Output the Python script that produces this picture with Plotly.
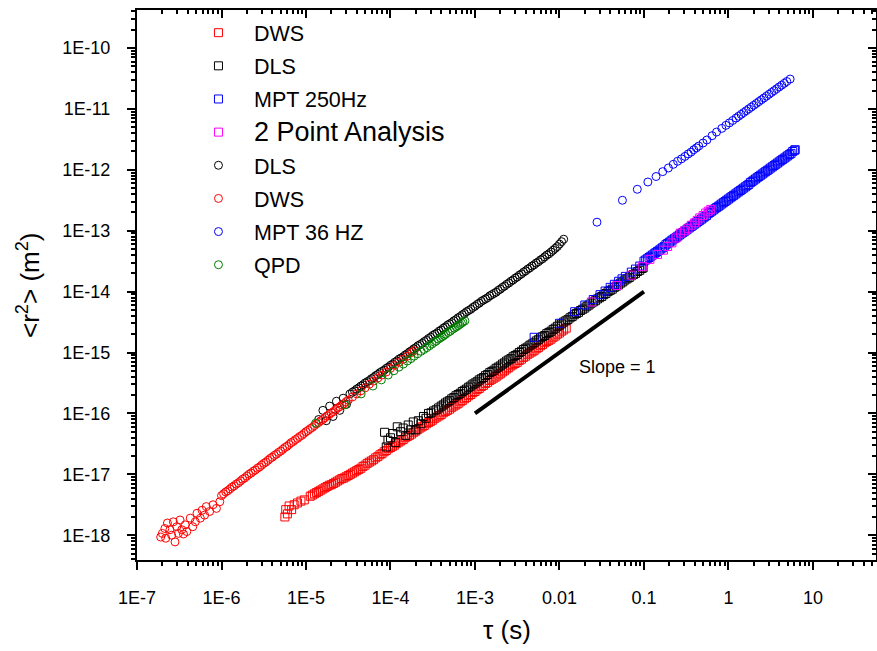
import numpy as np
import plotly.graph_objects as go

# ---------------- data (log10 of tau [s] and of <r^2> [m^2]) ----------------
dws_sq_log_tau = [-5.25, -5.24, -5.22, -5.20, -5.17, -5.14, -5.10, -5.06, -5.02,
                  -4.950, -4.925, -4.900, -4.875, -4.850, -4.825, -4.800, -4.775, -4.750, -4.725,
                  -4.700, -4.675, -4.650, -4.625, -4.600, -4.575, -4.550, -4.525, -4.500, -4.475,
                  -4.450, -4.425, -4.400, -4.375, -4.350, -4.325, -4.300, -4.275, -4.250, -4.225,
                  -4.200, -4.175, -4.150, -4.125, -4.100, -4.075, -4.050, -4.025, -4.000, -3.975,
                  -3.950, -3.925, -3.900, -3.875, -3.850, -3.825, -3.800, -3.775, -3.750, -3.725,
                  -3.700, -3.675, -3.650, -3.625, -3.600, -3.575, -3.550, -3.525, -3.500, -3.475,
                  -3.450, -3.425, -3.400, -3.375, -3.350, -3.325, -3.300, -3.275, -3.250, -3.225,
                  -3.200, -3.175, -3.150, -3.125, -3.100, -3.075, -3.050, -3.025, -3.000, -2.975,
                  -2.950, -2.925, -2.900, -2.875, -2.850, -2.825, -2.800, -2.775, -2.750, -2.725,
                  -2.700, -2.675, -2.650, -2.625, -2.600, -2.575, -2.550, -2.525, -2.500, -2.475,
                  -2.450, -2.425, -2.400, -2.375, -2.350, -2.325, -2.300, -2.275, -2.250, -2.225,
                  -2.200, -2.175, -2.150, -2.125, -2.100, -2.075, -2.050, -2.025, -2.000, -1.975,
                  -1.950, -1.920]
dws_sq_log_msd = [-17.70, -17.58, -17.65, -17.52, -17.58, -17.50, -17.47, -17.44, -17.42,
                  -17.36, -17.34, -17.32, -17.30, -17.28, -17.26, -17.24, -17.22, -17.20, -17.18,
                  -17.17, -17.15, -17.13, -17.11, -17.09, -17.07, -17.06, -17.04, -17.02, -17.00,
                  -16.98, -16.96, -16.94, -16.92, -16.90, -16.87, -16.85, -16.82, -16.80, -16.78,
                  -16.76, -16.73, -16.71, -16.68, -16.66, -16.63, -16.61, -16.58, -16.56, -16.54,
                  -16.52, -16.49, -16.47, -16.45, -16.43, -16.40, -16.38, -16.36, -16.34, -16.31,
                  -16.29, -16.26, -16.24, -16.22, -16.20, -16.17, -16.15, -16.13, -16.11, -16.08,
                  -16.06, -16.04, -16.02, -15.99, -15.97, -15.95, -15.93, -15.90, -15.88, -15.86,
                  -15.84, -15.81, -15.79, -15.76, -15.74, -15.71, -15.69, -15.66, -15.64, -15.61,
                  -15.59, -15.56, -15.54, -15.51, -15.49, -15.46, -15.44, -15.42, -15.40, -15.37,
                  -15.35, -15.32, -15.30, -15.27, -15.25, -15.22, -15.20, -15.18, -15.16, -15.13,
                  -15.11, -15.08, -15.06, -15.03, -15.01, -14.99, -14.97, -14.94, -14.92, -14.89,
                  -14.87, -14.84, -14.82, -14.80, -14.78, -14.75, -14.73, -14.70, -14.68, -14.65,
                  -14.63, -14.60]

dls_sq_log_tau = [-4.07, -4.05, -4.03, -4.00, -3.97, -3.94, -3.92, -3.88, -3.85, -3.82,
                  -3.79, -3.76, -3.73, -3.70, -3.67, -3.64, -3.61, -3.58, -3.55, -3.52,
                  -3.49, -3.46, -3.43,
                  -3.400, -3.375, -3.350, -3.325, -3.300, -3.275, -3.250, -3.225, -3.200, -3.175,
                  -3.150, -3.125, -3.100, -3.075, -3.050, -3.025, -3.000, -2.975, -2.950, -2.925,
                  -2.900, -2.875, -2.850, -2.825, -2.800, -2.775, -2.750, -2.725, -2.700, -2.675,
                  -2.650, -2.625, -2.600, -2.575, -2.550, -2.525, -2.500, -2.475, -2.450, -2.425,
                  -2.400, -2.375, -2.350, -2.325, -2.300, -2.275, -2.250, -2.225, -2.200, -2.175,
                  -2.150, -2.125, -2.100, -2.075, -2.050, -2.025, -2.000, -1.975, -1.950, -1.925,
                  -1.900, -1.875, -1.850, -1.825, -1.800, -1.775, -1.750, -1.725, -1.700, -1.675,
                  -1.650, -1.625, -1.600, -1.575, -1.550, -1.525, -1.500, -1.475, -1.450, -1.425,
                  -1.400, -1.375, -1.350, -1.325, -1.300, -1.275, -1.250, -1.225, -1.200, -1.175,
                  -1.150, -1.125, -1.100, -1.075, -1.050, -1.025, -1.010]
dls_sq_log_msd = [-16.31, -16.55, -16.44, -16.40, -16.33, -16.48, -16.22, -16.30, -16.24, -16.36,
                  -16.19, -16.27, -16.14, -16.27, -16.12, -16.17, -16.05, -16.08, -16.00, -15.99,
                  -15.96, -15.94, -15.91,
                  -15.88, -15.86, -15.83, -15.81, -15.79, -15.76, -15.74, -15.71, -15.69, -15.67,
                  -15.64, -15.62, -15.60, -15.57, -15.55, -15.52, -15.50, -15.48, -15.45, -15.43,
                  -15.41, -15.38, -15.36, -15.33, -15.31, -15.29, -15.26, -15.24, -15.22, -15.19,
                  -15.17, -15.14, -15.12, -15.10, -15.07, -15.05, -15.03, -15.00, -14.98, -14.95,
                  -14.93, -14.91, -14.88, -14.86, -14.84, -14.81, -14.79, -14.76, -14.74, -14.72,
                  -14.69, -14.67, -14.65, -14.62, -14.60, -14.57, -14.55, -14.53, -14.50, -14.48,
                  -14.46, -14.43, -14.41, -14.38, -14.36, -14.34, -14.31, -14.29, -14.27, -14.24,
                  -14.22, -14.19, -14.17, -14.15, -14.12, -14.10, -14.08, -14.05, -14.03, -14.00,
                  -13.98, -13.96, -13.93, -13.91, -13.89, -13.86, -13.84, -13.81, -13.79, -13.77,
                  -13.74, -13.72, -13.70, -13.67, -13.65, -13.62, -13.61]

mpt250_log_tau = [-2.30, -2.00, -1.82, -1.70, -1.60, -1.52, -1.46, -1.40, -1.35, -1.30,
                  -1.26, -1.22, -1.15, -1.10, -1.05,
                  -1.00, -0.98, -0.96, -0.94, -0.92, -0.90, -0.88, -0.86, -0.84, -0.82,
                  -0.80, -0.78, -0.76, -0.74, -0.72, -0.70, -0.68, -0.66, -0.64, -0.62,
                  -0.60, -0.58, -0.56, -0.54, -0.52, -0.50, -0.48, -0.46, -0.44, -0.42,
                  -0.40, -0.38, -0.36, -0.34, -0.32, -0.30, -0.28, -0.26, -0.24, -0.22,
                  -0.20, -0.18, -0.16, -0.14, -0.12, -0.10, -0.08, -0.06, -0.04, -0.02,
                  0.00, 0.02, 0.04, 0.06, 0.08, 0.10, 0.12, 0.14, 0.16, 0.18,
                  0.20, 0.22, 0.24, 0.26, 0.28, 0.30, 0.32, 0.34, 0.36, 0.38,
                  0.40, 0.42, 0.44, 0.46, 0.48, 0.50, 0.52, 0.54, 0.56, 0.58,
                  0.60, 0.62, 0.64, 0.66, 0.68, 0.70, 0.72, 0.74, 0.76, 0.78, 0.79]
mpt250_log_msd = [-14.75, -14.52, -14.33, -14.22, -14.13, -14.05, -13.99, -13.93, -13.88, -13.83,
                  -13.79, -13.75, -13.68, -13.63, -13.58,
                  -13.50, -13.48, -13.46, -13.44, -13.42, -13.40, -13.38, -13.36, -13.34, -13.32,
                  -13.30, -13.28, -13.26, -13.23, -13.21, -13.19, -13.17, -13.15, -13.13, -13.11,
                  -13.09, -13.07, -13.05, -13.03, -13.01, -12.99, -12.97, -12.95, -12.93, -12.91,
                  -12.89, -12.87, -12.85, -12.83, -12.81, -12.79, -12.77, -12.75, -12.72, -12.70,
                  -12.68, -12.66, -12.64, -12.62, -12.60, -12.58, -12.56, -12.54, -12.52, -12.50,
                  -12.48, -12.46, -12.44, -12.42, -12.40, -12.38, -12.36, -12.34, -12.32, -12.30,
                  -12.28, -12.26, -12.24, -12.21, -12.19, -12.17, -12.15, -12.13, -12.11, -12.09,
                  -12.07, -12.05, -12.03, -12.01, -11.99, -11.97, -11.95, -11.93, -11.91, -11.89,
                  -11.87, -11.85, -11.83, -11.81, -11.79, -11.77, -11.75, -11.73, -11.70, -11.68, -11.67]

two_pt_log_tau = [-1.62, -1.32, -1.15, -1.02, -0.93, -0.84, -0.77, -0.72, -0.67, -0.62,
                  -0.57, -0.52, -0.48, -0.44, -0.40, -0.37, -0.34, -0.30, -0.27, -0.24, -0.21]
two_pt_log_msd = [-14.17, -13.90, -13.73, -13.59, -13.47, -13.39, -13.32, -13.26, -13.20, -13.12,
                  -13.04, -13.00, -12.96, -12.91, -12.87, -12.83, -12.79, -12.75, -12.71, -12.68, -12.65]

dls_ci_log_tau = [-4.85, -4.80, -4.76, -4.72, -4.68, -4.64, -4.60, -4.56, -4.52, -4.48,
                  -4.450, -4.425, -4.400, -4.375, -4.350, -4.325, -4.300, -4.275, -4.250, -4.225,
                  -4.200, -4.175, -4.150, -4.125, -4.100, -4.075, -4.050, -4.025, -4.000, -3.975,
                  -3.950, -3.925, -3.900, -3.875, -3.850, -3.825, -3.800, -3.775, -3.750, -3.725,
                  -3.700, -3.675, -3.650, -3.625, -3.600, -3.575, -3.550, -3.525, -3.500, -3.475,
                  -3.450, -3.425, -3.400, -3.375, -3.350, -3.325, -3.300, -3.275, -3.250, -3.225,
                  -3.200, -3.175, -3.150, -3.125, -3.100, -3.075, -3.050, -3.025, -3.000, -2.975,
                  -2.950, -2.925, -2.900, -2.875, -2.850, -2.825, -2.800, -2.775, -2.750, -2.725,
                  -2.700, -2.675, -2.650, -2.625, -2.600, -2.575, -2.550, -2.525, -2.500, -2.475,
                  -2.450, -2.425, -2.400, -2.375, -2.350, -2.325, -2.300, -2.275, -2.250, -2.225,
                  -2.200, -2.175, -2.150, -2.125, -2.100, -2.075, -2.050, -2.025, -2.000, -1.975,
                  -1.950]
dls_ci_log_msd = [-16.10, -15.95, -16.12, -15.88, -16.05, -15.80, -15.95, -15.75, -15.85, -15.68,
                  -15.65, -15.63, -15.60, -15.58, -15.55, -15.53, -15.50, -15.48, -15.46, -15.43,
                  -15.41, -15.38, -15.36, -15.33, -15.31, -15.29, -15.26, -15.24, -15.21, -15.19,
                  -15.16, -15.14, -15.11, -15.09, -15.07, -15.04, -15.02, -14.99, -14.97, -14.94,
                  -14.92, -14.89, -14.87, -14.85, -14.82, -14.80, -14.77, -14.75, -14.72, -14.70,
                  -14.68, -14.65, -14.63, -14.60, -14.58, -14.55, -14.53, -14.51, -14.48, -14.46,
                  -14.43, -14.41, -14.38, -14.36, -14.33, -14.31, -14.29, -14.26, -14.24, -14.21,
                  -14.19, -14.16, -14.14, -14.12, -14.10, -14.07, -14.05, -14.03, -14.01, -13.98,
                  -13.96, -13.93, -13.91, -13.88, -13.86, -13.83, -13.81, -13.78, -13.76, -13.73,
                  -13.71, -13.68, -13.66, -13.63, -13.61, -13.58, -13.56, -13.53, -13.51, -13.48,
                  -13.46, -13.43, -13.40, -13.38, -13.35, -13.32, -13.29, -13.26, -13.22, -13.18,
                  -13.14]

dws_ci_log_tau = [-6.72, -6.70, -6.67, -6.66, -6.64, -6.61, -6.59, -6.57, -6.55, -6.53,
                  -6.51, -6.49, -6.47, -6.45, -6.43, -6.41, -6.37, -6.34, -6.31, -6.29,
                  -6.25, -6.23, -6.20, -6.18, -6.14, -6.10, -6.06, -6.02,
                  -6.000, -5.975, -5.950, -5.925, -5.900, -5.875, -5.850, -5.825, -5.800, -5.775,
                  -5.750, -5.725, -5.700, -5.675, -5.650, -5.625, -5.600, -5.575, -5.550, -5.525,
                  -5.500, -5.475, -5.450, -5.425, -5.400, -5.375, -5.350, -5.325, -5.300, -5.275,
                  -5.250, -5.225, -5.200, -5.175, -5.150, -5.125, -5.100, -5.075, -5.050, -5.025,
                  -5.000, -4.975, -4.950, -4.925, -4.900, -4.875, -4.850, -4.825, -4.800, -4.775,
                  -4.750, -4.725, -4.700, -4.675, -4.650, -4.625, -4.600, -4.575, -4.550, -4.525,
                  -4.500, -4.450, -4.400, -4.350, -4.300, -4.250, -4.200, -4.150, -4.100, -4.050,
                  -4.000, -3.950, -3.900, -3.850, -3.800, -3.750, -3.720]
dws_ci_log_msd = [-18.03, -17.97, -17.89, -18.05, -17.80, -17.91, -18.00, -17.78, -18.11, -17.86,
                  -17.97, -17.75, -17.91, -17.98, -17.83, -17.94, -17.72, -17.86, -17.78, -17.64,
                  -17.72, -17.59, -17.67, -17.53, -17.61, -17.50, -17.56, -17.45,
                  -17.35, -17.32, -17.29, -17.27, -17.24, -17.21, -17.19, -17.16, -17.14, -17.11,
                  -17.08, -17.06, -17.03, -17.00, -16.98, -16.95, -16.93, -16.90, -16.88, -16.85,
                  -16.82, -16.80, -16.77, -16.74, -16.72, -16.69, -16.67, -16.64, -16.62, -16.59,
                  -16.56, -16.54, -16.51, -16.48, -16.46, -16.43, -16.41, -16.38, -16.36, -16.33,
                  -16.30, -16.28, -16.25, -16.23, -16.20, -16.17, -16.15, -16.12, -16.10, -16.07,
                  -16.04, -16.02, -15.99, -15.97, -15.94, -15.91, -15.89, -15.86, -15.84, -15.81,
                  -15.78, -15.73, -15.68, -15.63, -15.58, -15.52, -15.47, -15.42, -15.37, -15.32,
                  -15.26, -15.21, -15.16, -15.11, -15.06, -15.00, -14.97]

mpt36_log_tau = [-1.556, -1.255, -1.079, -0.954, -0.857, -0.778, -0.711, -0.653, -0.602, -0.556,
                 -0.515, -0.477, -0.443, -0.411, -0.380, -0.352, -0.301, -0.255, -0.194, -0.141,
                 -0.079, -0.03, 0.01, 0.05, 0.09,
                 0.12, 0.15, 0.18, 0.21, 0.24, 0.27, 0.30, 0.33, 0.36, 0.39,
                 0.42, 0.45, 0.48, 0.51, 0.54, 0.57, 0.60, 0.63, 0.66, 0.69, 0.73]
mpt36_log_msd = [-12.86, -12.50, -12.32, -12.20, -12.11, -12.03, -11.97, -11.91, -11.86, -11.82,
                 -11.78, -11.74, -11.71, -11.67, -11.64, -11.61, -11.56, -11.51, -11.44, -11.38,
                 -11.32, -11.27, -11.23, -11.19, -11.15,
                 -11.12, -11.09, -11.06, -11.03, -11.00, -10.97, -10.94, -10.91, -10.88, -10.85,
                 -10.82, -10.79, -10.76, -10.73, -10.70, -10.67, -10.64, -10.61, -10.58, -10.55, -10.51]

qpd_log_tau = [-4.886, -4.538, -4.347, -4.208, -4.108, -4.027, -3.959, -3.900, -3.848, -3.801,
               -3.757, -3.721, -3.678, -3.638, -3.602, -3.569, -3.538, -3.509, -3.481, -3.456,
               -3.432, -3.409, -3.387, -3.367, -3.347, -3.319, -3.292, -3.268, -3.244, -3.222,
               -3.201, -3.180, -3.161, -3.143, -3.119]
qpd_log_msd = [-16.16, -15.86, -15.68, -15.55, -15.45, -15.37, -15.30, -15.24, -15.19, -15.14,
               -15.10, -15.06, -15.02, -14.98, -14.95, -14.92, -14.89, -14.86, -14.83, -14.81,
               -14.78, -14.76, -14.74, -14.72, -14.70, -14.67, -14.65, -14.62, -14.60, -14.58,
               -14.56, -14.54, -14.52, -14.50, -14.48]

slope_tau = [1e-3, 1e-1]
slope_msd = [1e-16, 1e-14]

x_tick_vals = [1e-7, 1e-6, 1e-5, 1e-4, 1e-3, 1e-2, 1e-1, 1, 10]
x_tick_text = ["1E-7", "1E-6", "1E-5", "1E-4", "1E-3", "0.01", "0.1", "1", "10"]
y_tick_vals = [1e-18, 1e-17, 1e-16, 1e-15, 1e-14, 1e-13, 1e-12, 1e-11, 1e-10]
y_tick_text = ["1E-18", "1E-17", "1E-16", "1E-15", "1E-14", "1E-13", "1E-12", "1E-11", "1E-10"]

series = [
    ("DWS", dws_sq_log_tau, dws_sq_log_msd, "square-open", "#ff0000"),
    ("DLS", dls_sq_log_tau, dls_sq_log_msd, "square-open", "#000000"),
    ("MPT 250Hz", mpt250_log_tau, mpt250_log_msd, "square-open", "#0000ff"),
    ("<span style='font-size:27px'>2 Point Analysis</span>", two_pt_log_tau, two_pt_log_msd, "square-open", "#ff00ff"),
    ("DLS", dls_ci_log_tau, dls_ci_log_msd, "circle-open", "#000000"),
    ("DWS", dws_ci_log_tau, dws_ci_log_msd, "circle-open", "#ff0000"),
    ("MPT 36 HZ", mpt36_log_tau, mpt36_log_msd, "circle-open", "#0000ff"),
    ("QPD", qpd_log_tau, qpd_log_msd, "circle-open", "#008000"),
]

FONT = "Liberation Sans, Arial, sans-serif"
XR = [-7, 1.746]
YR = [-18.407, -9.376]

fig = go.Figure()
for i, (name, lt, lm, sym, col) in enumerate(series):
    fig.add_trace(go.Scatter(
        x=np.power(10.0, lt), y=np.power(10.0, lm), mode="markers", name=name,
        legendgroup=f"g{i}",
        marker=dict(symbol=sym, size=8, color=col, line=dict(width=1, color=col)),
    ))

fig.add_trace(go.Scatter(x=slope_tau, y=slope_msd, mode="lines", xaxis="x2", yaxis="y2",
                         line=dict(color="black", width=4), showlegend=False))

minor_x = [m * 10.0 ** e for e in range(-7, 2) for m in range(2, 10)]
minor_y = [m * 10.0 ** e for e in range(-19, -9) for m in range(2, 10)]

common = dict(type="log", showgrid=False, zeroline=False, showline=True, linecolor="black",
              linewidth=2, tickwidth=2, tickcolor="black", tickmode="array")

fig.update_layout(
    width=877, height=651,
    margin=dict(l=137, r=1, t=10, b=91),
    paper_bgcolor="white", plot_bgcolor="white",
    font=dict(family=FONT, color="black"),
    xaxis=dict(**common, range=XR, tickvals=x_tick_vals, ticktext=x_tick_text,
               ticks="outside", ticklen=8, ticklabelstandoff=12,
               tickfont=dict(size=18, family=FONT),
               minor=dict(tickmode="array", tickvals=minor_x, ticks="outside", ticklen=4,
                          tickwidth=1.5, tickcolor="black")),
    yaxis=dict(**common, range=YR, tickvals=y_tick_vals, ticktext=y_tick_text,
               ticks="outside", ticklen=8, ticklabelstandoff=13,
               tickfont=dict(size=18, family=FONT),
               minor=dict(tickmode="array", tickvals=minor_y, ticks="outside", ticklen=4,
                          tickwidth=1.5, tickcolor="black")),
    xaxis2=dict(**common, range=XR, tickvals=x_tick_vals, overlaying="x", side="top",
                anchor="y2", ticks="inside", ticklen=8, showticklabels=False,
                minor=dict(tickmode="array", tickvals=minor_x, ticks="inside", ticklen=4,
                           tickwidth=1.5, tickcolor="black")),
    yaxis2=dict(**common, range=YR, tickvals=y_tick_vals, overlaying="y", side="right",
                anchor="x2", ticks="inside", ticklen=8, showticklabels=False,
                minor=dict(tickmode="array", tickvals=minor_y, ticks="inside", ticklen=4,
                           tickwidth=1.5, tickcolor="black")),
    legend=dict(x=0.0622, y=0.996, xanchor="left", yanchor="top", bgcolor="rgba(0,0,0,0)",
                borderwidth=0, font=dict(size=21.5, family=FONT, color="black"),
                tracegroupgap=2.2, itemwidth=61),
    showlegend=True,
    annotations=[
        dict(text="Slope = 1", x=-1.31, y=-15.24, xref="x", yref="y", showarrow=False,
             font=dict(size=18, family=FONT, color="black")),
        dict(text="τ (s)", x=0.5, y=-0.127, xref="paper", yref="paper", showarrow=False,
             xanchor="center", yanchor="middle", font=dict(size=26, family=FONT, color="black")),
        dict(text="&lt;r<sup>2</sup>&gt; (m<sup>2</sup>)", x=-0.1475, y=0.5, xref="paper",
             yref="paper", showarrow=False, textangle=-90, xanchor="center", yanchor="middle",
             font=dict(size=26, family=FONT, color="black")),
    ],
)

fig.write_html("out.html")
